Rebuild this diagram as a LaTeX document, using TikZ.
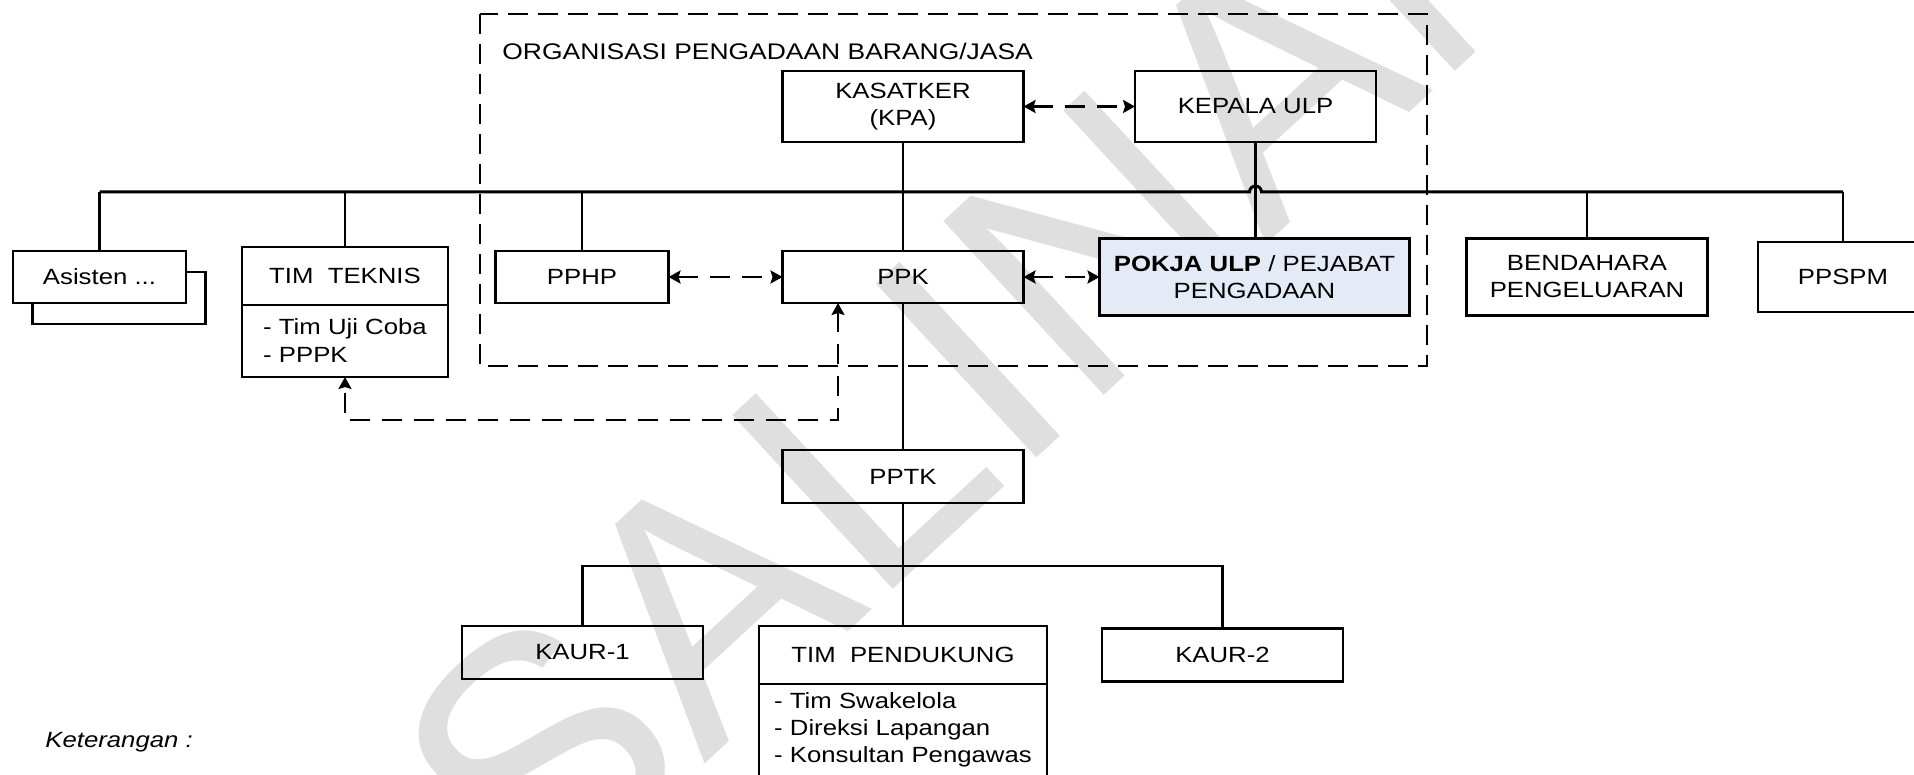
\documentclass[tikz,border=0pt]{standalone}
\usepackage{fontspec}
\setmainfont{Liberation Sans}[FakeStretch=1.17]
\newfontfamily\wmfont{Liberation Sans}
\usetikzlibrary{arrows.meta, calc, positioning}

\definecolor{ulpblue}{HTML}{E4EBF6}
\definecolor{wmgray}{HTML}{DFDFDF}

\tikzset{
  box/.style={draw, line width=1.2pt, inner sep=0pt, outer sep=0pt, align=center,
    font=\fontsize{11}{13.5}\selectfont},
  listbox/.style={draw, line width=1.2pt, inner sep=0pt, outer sep=0pt, align=left,
    anchor=north, font=\fontsize{11}{14}\selectfont},
  link/.style={line width=1.2pt},
  busline/.style={line width=1.5pt},
  dashlink/.style={line width=1.2pt, dash pattern=on 10pt off 6pt,
    {Stealth[length=6pt,width=6.5pt,inset=1pt]}-{Stealth[length=6pt,width=6.5pt,inset=1pt]}},
}

\begin{document}
\begin{tikzpicture}[x=0.5pt, y=-0.5pt]
\useasboundingbox (0,0) rectangle (1914,775);
\clip (0,0) rectangle (1914,775);

% watermark
\node[rotate=42.7, text=wmgray, inner sep=0pt, font=\wmfont\fontsize{172}{172}\selectfont]
  (salinan) at (996,334) {SALINAN};

% frame of the procurement organisation
\draw[line width=1.2pt, dash pattern=on 10pt off 5pt] (480,14) rectangle (1427,366);
\node[anchor=west, inner sep=0pt, font=\fontsize{11.3}{13}\selectfont] (judul) at (502,51)
  {ORGANISASI PENGADAAN BARANG/JASA};

% top level
\node[box, minimum width=120.5pt, minimum height=35.5pt] (kpa) at (903,106.5) {KASATKER\\(KPA)};
\node[box, minimum width=120.5pt, minimum height=35.5pt] (kulp) at (1255.5,106.5) {KEPALA ULP};

% second level
\node[box, minimum width=86.5pt, minimum height=26pt] (asisten2) at (119,298) {};
\node[box, fill=white, minimum width=86.5pt, minimum height=26pt] (asisten) at (99.5,277) {Asisten ...};
\node[box, minimum width=103pt, minimum height=29pt] (tteknis) at (345,276) {TIM\ \ TEKNIS};
\node[listbox, minimum width=103pt, minimum height=36pt] (ttlist) at (tteknis.south)
  {- Tim Uji Coba\\- PPPK};
\node[box, minimum width=86.5pt, minimum height=26pt] (pphp) at (582,277) {PPHP};
\node[box, minimum width=120.5pt, minimum height=26pt] (ppk) at (903,277) {PPK};
\node[box, fill=ulpblue, minimum width=155pt, minimum height=38.5pt] (pokja) at (1254.5,277)
  {\textbf{POKJA ULP} / PEJABAT\\PENGADAAN};
\node[box, minimum width=120.5pt, minimum height=38.5pt] (bendahara) at (1587,277)
  {BENDAHARA\\PENGELUARAN};
\node[box, minimum width=85pt, minimum height=35pt] (ppspm) at (1843,277) {PPSPM};

% third level
\node[box, minimum width=120.5pt, minimum height=26.5pt] (pptk) at (903,476.5) {PPTK};
\node[box, minimum width=120.5pt, minimum height=26.5pt] (kaur1) at (582.5,652.5) {KAUR-1};
\node[box, minimum width=144pt, minimum height=29pt] (tpend) at (903,655) {TIM\ \ PENDUKUNG};
\node[listbox, minimum width=144pt, minimum height=46pt,
  font=\fontsize{11}{13.5}\selectfont] (tplist) at (tpend.south)
  {- Tim Swakelola\\- Direksi Lapangan\\- Konsultan Pengawas};
\node[box, minimum width=120.5pt, minimum height=26.5pt] (kaur2) at (1222.5,655) {KAUR-2};

\node[anchor=west, inner sep=0pt, font=\itshape\fontsize{11}{13}\selectfont] (ket) at (45,742)
  {Keterangan :};

% solid lines
\coordinate (bus) at (0,192);
\coordinate (bus2) at (0,566);
\draw[busline] (asisten.north |- bus) -- ($(kulp.south |- bus)+(-3pt,0)$)
  arc[start angle=180, end angle=0, radius=3pt] -- (ppspm.north |- bus);
\foreach \n in {asisten, tteknis, pphp, bendahara, ppspm}
  \draw[link] (\n.north) -- (\n.north |- bus);
\draw[link] (kpa.south) -- (ppk.north);
\draw[link] (kulp.south) -- (kulp.south |- pokja.north);
\draw[link] (ppk.south) -- (pptk.north);
\draw[link] (pptk.south) -- (tpend.north);
\draw[link] (kaur1.north) -- (kaur1.north |- bus2) -- (kaur2.north |- bus2) -- (kaur2.north);

% dashed links
\draw[dashlink] (kpa.east) -- (kulp.west);
\draw[dashlink] (pphp.east) -- (ppk.west);
\draw[dashlink] (ppk.east) -- (pokja.west);
\draw[dashlink] ([xshift=-32.5pt]ppk.south) -- ++(0,117) -| (ttlist.south);
\end{tikzpicture}
\end{document}
